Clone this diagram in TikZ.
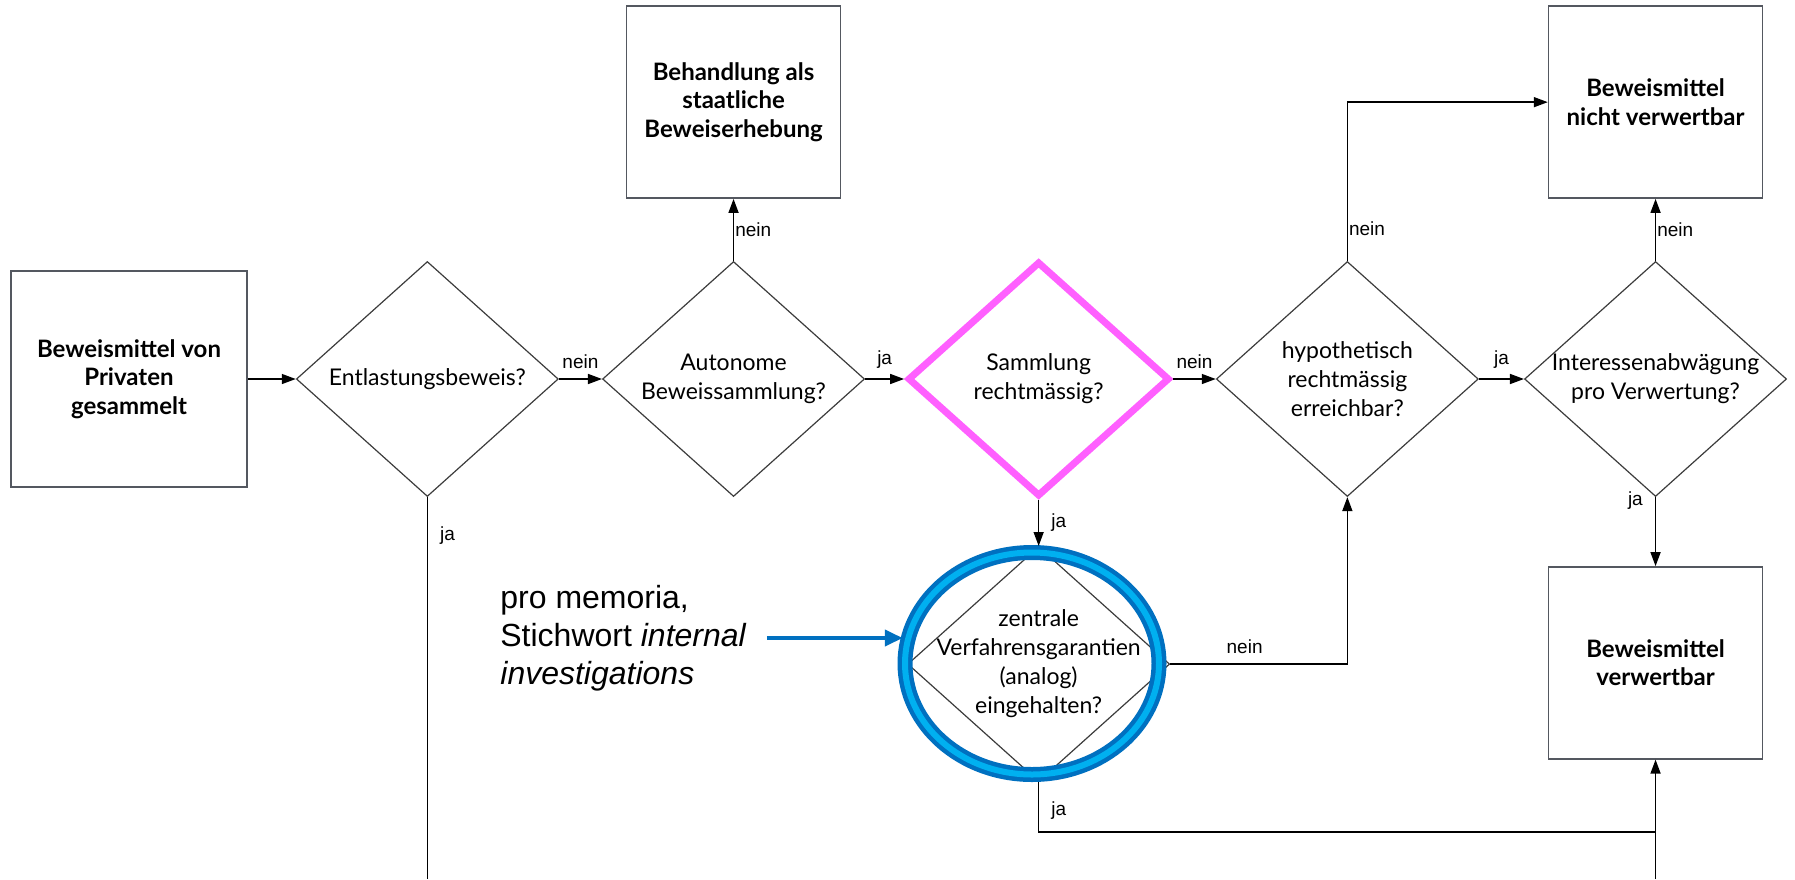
\documentclass[tikz,border=0pt]{standalone}
\usepackage{fontspec}
\setmainfont{Lato}
\newfontfamily\arialfont{Liberation Sans}
\usetikzlibrary{positioning,shapes.geometric,arrows.meta}
\definecolor{boxgray}{RGB}{84,88,96}
\definecolor{diagray}{RGB}{60,60,60}
\definecolor{pinkrand}{RGB}{255,96,255}
\definecolor{ringdunkel}{RGB}{0,112,192}
\definecolor{ringhell}{RGB}{0,176,240}

\begin{document}
\begin{tikzpicture}[x=0.5pt, y=-0.5pt,
        box/.style={draw=boxgray, line width=0.75pt, minimum width=107pt, minimum height=96pt, inner sep=0pt, align=center, font=\bfseries\fontsize{12}{14.3}\selectfont},
        decision/.style={diamond, draw=diagray, line width=0.6pt, minimum width=131pt, minimum height=117.5pt, inner sep=0pt},
        dtext/.style={align=center, inner sep=0pt, font=\fontsize{11.5}{14.5}\selectfont},
        flow/.style={line width=0.75pt, -{Triangle[length=7pt, width=5pt]}},
        lbl/.style={inner sep=0pt, font=\arialfont\fontsize{9.5}{11}\selectfont},
        ring/.style={ellipse, draw=ringdunkel, double=ringhell, double distance=3pt, line width=2.25pt, inner sep=0pt},
        memo/.style={align=left, inner sep=0pt, font=\arialfont\fontsize{16}{19}\selectfont},
        hinweis/.style={draw=ringdunkel, line width=2pt, -{Triangle[length=9pt, width=8pt]}}]
    \useasboundingbox (0,0) rectangle (1795,879);
    \coordinate (unten) at (0,879);
    \coordinate (sammel) at (0,832);

    % Hauptlinie
    \node[box, minimum width=118pt, minimum height=108pt] (privat) at (129,379) {Beweismittel von\\Privaten\\gesammelt};
    \node[decision, right = 24pt of privat] (entl) {};
    \node[decision, right = 21.5pt of entl] (auto) {};
    \node[decision, draw=pinkrand, line width=3.5pt, right = 19.5pt of auto] (samml) {};
    \node[decision, right = 21.3pt of samml] (hypo) {};
    \node[decision, right = 22.5pt of hypo] (abw) {};
    \node[decision, below = 23pt of samml] (garant) {};

    \node[dtext] (entltxt) at (entl) {Entlastungsbeweis?};
    \node[dtext] (autotxt) at (auto) {Autonome\\Beweissammlung?};
    \node[dtext] (sammltxt) at (samml) {Sammlung\\rechtmässig?};
    \node[dtext] (hypotxt) at (hypo) {hypothetisch\\rechtmässig\\erreichbar?};
    \node[dtext] (abwtxt) at (abw) {Interessenabwägung\\pro Verwertung?};
    \node[dtext] (garanttxt) at (garant) {zentrale\\Verfahrensgarantien\\(analog)\\eingehalten?};

    % Ergebnisse
    \node[box, above = 31pt of auto] (staat) {Behandlung als\\staatliche\\Beweiserhebung};
    \node[box, above = 31pt of abw] (nichtv) {Beweismittel\\nicht verwertbar};
    \node[box, below = 34.5pt of abw] (verw) {Beweismittel\\verwertbar};

    % Hinweis
    \node[ring, minimum width=127pt, minimum height=111pt] (kreis) at (1032,663.5) {};
    \node[memo, anchor=west] (memo) at (500,638) {pro memoria,\\Stichwort \textit{internal}\\\textit{investigations}};
    \draw[hinweis] ([xshift=10pt]memo.east) -- (memo.east -| kreis.west);

    % Verbindungen
    \draw[flow] (privat) -- (entl);
    \draw[flow] (entl) -- node[lbl, above=5pt] (l1) {nein} (auto);
    \draw[flow] (auto) -- node[lbl, above=5pt] (l2) {ja} (samml);
    \draw[flow] (samml) -- node[lbl, above=5pt] (l3) {nein} (hypo);
    \draw[flow] (hypo) -- node[lbl, above=5pt] (l4) {ja} (abw);
    \draw[flow] (auto) -- node[lbl, right=0.5pt] (l5) {nein} (staat);
    \draw[flow] (abw) -- node[lbl, right=0.5pt] (l6) {nein} (nichtv);
    \draw[flow] (abw) -- node[lbl, pos=0.05, left=6pt] (l7) {ja} (verw);
    \draw[flow] (samml) -- node[lbl, right=6pt] (l8) {ja} (garant);
    \draw[flow] (hypo.north) |- node[lbl, pos=0.1, right=0.5pt] (l9) {nein} (nichtv.west);
    \draw[flow] (garant.east) -| node[lbl, pos=0.21, above=5pt] (l10) {nein} (hypo.south);
    \draw[line width=0.75pt] (entl.south) -- node[lbl, pos=0.1, right=6pt] (l11) {ja} (entl.south |- unten);
    \draw[line width=0.75pt] (garant.south) |- node[lbl, pos=0.28, right=6pt] (l12) {ja} (verw.south |- sammel);
    \draw[flow] (verw.south |- unten) -- (verw.south);
\end{tikzpicture}
\end{document}
